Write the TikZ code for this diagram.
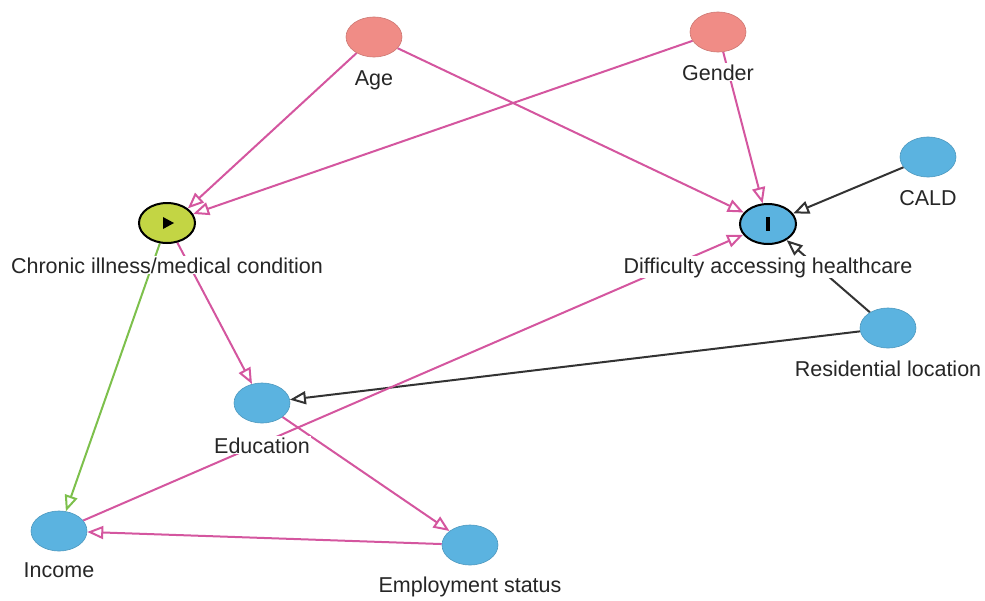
\documentclass[tikz,border=0pt]{standalone}
\usepackage{fontspec}
\setmainfont{Liberation Sans}
\usepackage{tikz}
\usetikzlibrary{arrows.meta,shapes.geometric,backgrounds}

\definecolor{dagpink}{HTML}{D4569F}
\definecolor{dagcoral}{HTML}{F08C86}
\definecolor{dagblue}{HTML}{5BB3E0}
\definecolor{daglime}{HTML}{C3D544}
\definecolor{daggreen}{HTML}{7DC04C}

\begin{document}
\begin{tikzpicture}[x=1pt, y=-1pt,
  var/.style={ellipse,minimum width=56pt,minimum height=40pt,inner sep=0pt},
  anc/.style={var,fill=dagcoral,draw=dagcoral!85!black,line width=0.6pt},
  cov/.style={var,fill=dagblue,draw=dagblue!85!black,line width=0.6pt},
  expo/.style={var,fill=daglime,draw=black,line width=2pt},
  outc/.style={var,fill=dagblue,draw=black,line width=2pt},
  lbl/.style={anchor=base,fill=white,inner sep=1pt,text=black!85,font=\fontsize{21.5}{24}\selectfont},
  bias/.style={draw=dagpink,line width=2pt,-{Triangle[open,length=16pt,width=13pt]}},
  causal/.style={draw=daggreen,line width=2pt,-{Triangle[open,length=16pt,width=13pt]}},
  plain/.style={draw=black!80,line width=2pt,-{Triangle[open,length=16pt,width=13pt]}}]
\useasboundingbox (0,0) rectangle (985,600);

% variables
\node[anc] (age) at (374,37) {};
\node[anc] (gender) at (718,32) {};
\node[cov] (cald) at (928,157) {};
\node[expo] (chronic) at (167,223) {};
\node[outc] (diff) at (768,224) {};
\node[cov] (resid) at (888,328) {};
\node[cov] (edu) at (262,403) {};
\node[cov] (income) at (59,531) {};
\node[cov] (employ) at (470,545) {};

% markers for exposure and outcome
\fill (chronic.center) ++(-4,-6) -- ++(11,6) -- ++(-11,6) -- cycle;
\fill (diff.center) ++(-2,-7) rectangle ++(4,14);

% edges
\begin{scope}[on background layer]
\draw[bias] (age) -- (chronic.35);
\draw[bias] (gender) -- (chronic);
\draw[bias] (age) -- (diff);
\draw[bias] (gender) -- (diff);
\draw[plain] (cald) -- (diff);
\draw[plain] (resid) -- (diff);
\draw[plain] (resid) -- (edu);
\draw[bias] (chronic) -- (edu);
\draw[causal] (chronic) -- (income);
\draw[bias] (income) -- (diff);
\draw[bias] (edu) -- (employ);
\draw[bias] (employ) -- (income);
\end{scope}

% labels
\node[lbl] (agetxt) at ([yshift=-48pt]age.center) {Age};
\node[lbl] (gendertxt) at ([yshift=-48pt]gender.center) {Gender};
\node[lbl] (caldtxt) at ([yshift=-48pt]cald.center) {CALD};
\node[lbl] (chronictxt) at ([yshift=-50pt]chronic.center) {Chronic illness/medical condition};
\node[lbl] (difftxt) at ([yshift=-49pt]diff.center) {Difficulty accessing healthcare};
\node[lbl] (residtxt) at ([yshift=-48pt]resid.center) {Residential location};
\node[lbl] (edutxt) at ([yshift=-50pt]edu.center) {Education};
\node[lbl] (incometxt) at ([yshift=-46pt]income.center) {Income};
\node[lbl] (employtxt) at ([yshift=-47pt]employ.center) {Employment status};
\end{tikzpicture}
\end{document}
